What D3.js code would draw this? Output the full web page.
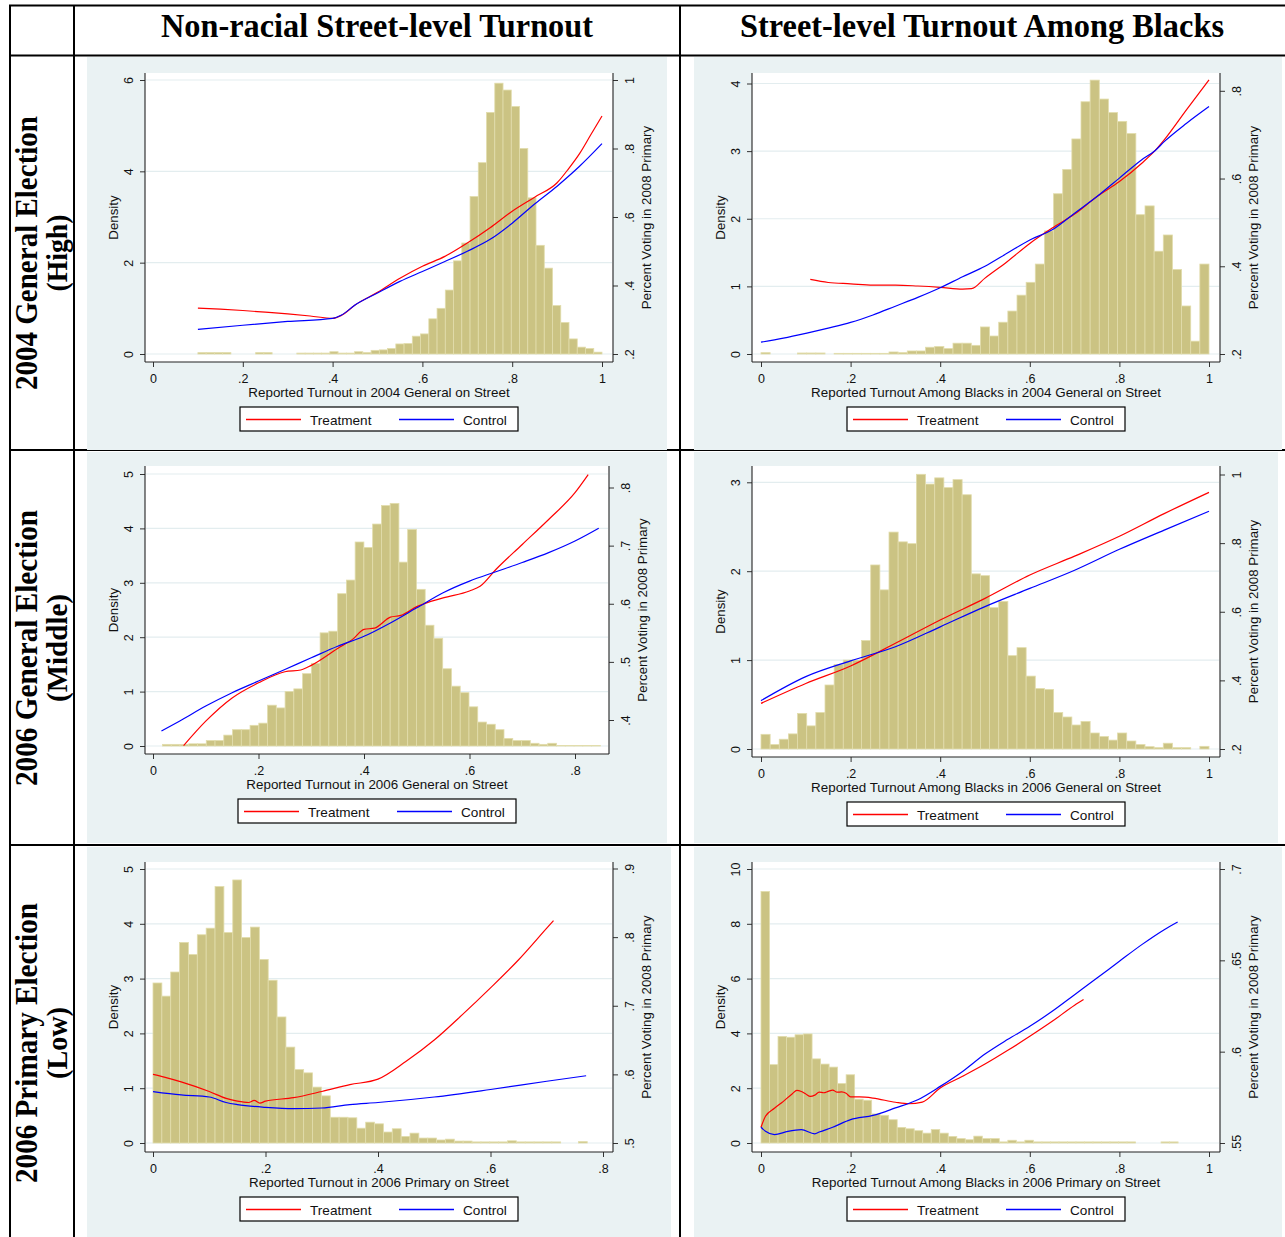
<!DOCTYPE html>
<html>
<head>
<script src="https://d3js.org/d3.v7.min.js"></script>
<style>
  body { margin: 0; background: #fff; }
  text { font-family: "Liberation Sans", Arial, sans-serif; fill: #111; }
  .hdr { font-family: "Liberation Serif", "Times New Roman", serif; font-weight: bold; fill: #000; }
</style>
</head>
<body>
<div id="container"></div>
<script>
// ---- table text ----
const colHeaders = ["Non-racial Street-level Turnout", "Street-level Turnout Among Blacks"];
const rowTitles = ["2004 General Election", "2006 General Election", "2006 Primary Election"];
const rowSubtitles = ["(High)", "(Middle)", "(Low)"];
const legendNames = ["Treatment", "Control"];
const legendColors = ["#FF0000", "#0000FF"];

// ---- panel 1: 2004 general, all ----
const p1XLabel = "Reported Turnout in 2004 General on Street";
const p1XTicks = [0, 0.2, 0.4, 0.6, 0.8, 1];
const p1LeftTicks = [0, 2, 4, 6];
const p1RightTicks = [0.2, 0.4, 0.6, 0.8, 1];
const p1BinStart = 0.1, p1BinWidth = 0.9 / 49;
const p1Density = [0.03,0.03,0.03,0.03,0,0,0,0.03,0.03,0,0,0,0.02,0.02,0.02,0.02,0.05,0.02,0.02,0.05,
  0.03,0.08,0.09,0.12,0.22,0.23,0.39,0.44,0.77,1.0,1.4,2.04,2.43,3.45,4.19,5.29,5.93,5.78,5.42,4.5,
  3.42,2.38,1.88,1.06,0.69,0.33,0.15,0.12,0.04];
const p1TreatX = [0.1,0.15,0.2,0.25,0.3,0.35,0.4,0.42,0.45,0.5,0.55,0.6,0.65,0.7,0.75,0.8,0.85,0.9,0.925,0.95,0.975,1.0];
const p1TreatY = [0.334,0.331,0.327,0.322,0.317,0.311,0.304,0.313,0.343,0.38,0.421,0.456,0.485,0.524,0.568,0.617,0.658,0.70,0.74,0.785,0.84,0.895];
const p1CtrlX = [0.1,0.2,0.3,0.4,0.42,0.45,0.5,0.55,0.6,0.65,0.7,0.75,0.8,0.85,0.9,0.95,1.0];
const p1CtrlY = [0.272,0.284,0.295,0.304,0.314,0.343,0.378,0.412,0.441,0.47,0.5,0.534,0.582,0.638,0.69,0.748,0.814];

// ---- panel 2: 2004 general, blacks ----
const p2XLabel = "Reported Turnout Among Blacks in 2004 General on Street";
const p2XTicks = [0, 0.2, 0.4, 0.6, 0.8, 1];
const p2LeftTicks = [0, 1, 2, 3, 4];
const p2RightTicks = [0.2, 0.4, 0.6, 0.8];
const p2BinStart = 0, p2BinWidth = 1 / 49;
const p2Density = [0.02,0,0,0,0.015,0.015,0.015,0,0.01,0.01,0.01,0.01,0.01,0.01,0.03,0.02,0.045,0.045,0.10,0.11,
  0.08,0.16,0.16,0.128,0.40,0.266,0.47,0.635,0.87,1.06,1.33,1.82,2.37,2.73,3.18,3.73,4.05,3.77,3.57,3.44,
  3.26,2.06,2.19,1.52,1.76,1.25,0.71,0.19,1.33];
const p2TreatX = [0.11,0.15,0.2,0.25,0.3,0.35,0.4,0.45,0.47,0.5,0.55,0.6,0.65,0.7,0.75,0.8,0.85,0.88,0.9,0.95,1.0];
const p2TreatY = [0.370,0.363,0.36,0.357,0.357,0.355,0.352,0.348,0.349,0.373,0.411,0.452,0.487,0.519,0.559,0.593,0.635,0.664,0.688,0.757,0.825];
const p2CtrlX = [0,0.05,0.1,0.15,0.2,0.25,0.3,0.35,0.4,0.45,0.5,0.55,0.6,0.65,0.7,0.75,0.8,0.85,0.88,0.9,0.95,1.0];
const p2CtrlY = [0.227,0.236,0.247,0.259,0.272,0.289,0.309,0.329,0.351,0.376,0.4,0.43,0.46,0.483,0.521,0.559,0.601,0.643,0.664,0.684,0.726,0.764];

// ---- panel 3: 2006 general, all ----
const p3XLabel = "Reported Turnout in 2006 General on Street";
const p3XTicks = [0, 0.2, 0.4, 0.6, 0.8];
const p3LeftTicks = [0, 1, 2, 3, 4, 5];
const p3RightTicks = [0.4, 0.5, 0.6, 0.7, 0.8];
const p3BinStart = 0.018, p3BinWidth = 0.0166;
const p3Density = [0.03,0.03,0.03,0.04,0.04,0.1,0.1,0.2,0.3,0.3,0.38,0.42,0.75,0.7,1.0,1.05,1.33,1.52,2.08,2.11,
  2.8,3.05,3.75,3.65,4.08,4.42,4.46,3.38,3.98,2.88,2.22,1.98,1.42,1.1,0.98,0.72,0.44,0.4,0.3,0.14,
  0.1,0.1,0.05,0.03,0.05,0.01,0.01,0.01,0.01,0.01];
const p3TreatX = [0.058,0.1,0.15,0.2,0.25,0.28,0.3,0.35,0.38,0.4,0.42,0.45,0.47,0.5,0.55,0.6,0.62,0.65,0.7,0.75,0.8,0.825];
const p3TreatY = [0.356,0.398,0.438,0.464,0.483,0.486,0.494,0.523,0.540,0.556,0.558,0.577,0.580,0.595,0.610,0.622,0.630,0.659,0.702,0.745,0.791,0.822];
const p3CtrlX = [0.016,0.05,0.1,0.15,0.2,0.25,0.3,0.35,0.4,0.45,0.5,0.55,0.6,0.65,0.7,0.75,0.8,0.845];
const p3CtrlY = [0.381,0.398,0.424,0.447,0.467,0.487,0.507,0.527,0.544,0.567,0.593,0.619,0.639,0.655,0.671,0.688,0.708,0.730];

// ---- panel 4: 2006 general, blacks ----
const p4XLabel = "Reported Turnout Among Blacks in 2006 General on Street";
const p4XTicks = [0, 0.2, 0.4, 0.6, 0.8, 1];
const p4LeftTicks = [0, 1, 2, 3];
const p4RightTicks = [0.2, 0.4, 0.6, 0.8, 1];
const p4BinStart = 0, p4BinWidth = 1 / 49;
const p4Density = [0.165,0.05,0.11,0.17,0.40,0.26,0.41,0.72,0.95,1.0,1.0,1.22,2.07,1.79,2.44,2.33,2.31,3.09,2.98,3.05,
  2.94,3.03,2.86,1.97,1.95,1.59,1.66,1.05,1.14,0.82,0.68,0.67,0.41,0.36,0.27,0.31,0.18,0.14,0.10,0.18,
  0.09,0.05,0.026,0.015,0.065,0.015,0.015,0,0.03];
const p4TreatX = [0,0.1,0.2,0.3,0.4,0.5,0.6,0.7,0.8,0.9,1.0];
const p4TreatY = [0.333,0.391,0.442,0.508,0.576,0.639,0.707,0.762,0.820,0.886,0.948];
const p4CtrlX = [0,0.1,0.2,0.3,0.4,0.5,0.6,0.7,0.8,0.9,1.0];
const p4CtrlY = [0.341,0.411,0.457,0.498,0.556,0.615,0.668,0.721,0.782,0.838,0.893];

// ---- panel 5: 2006 primary, all ----
const p5XLabel = "Reported Turnout in 2006 Primary on Street";
const p5XTicks = [0, 0.2, 0.4, 0.6, 0.8];
const p5LeftTicks = [0, 1, 2, 3, 4, 5];
const p5RightTicks = [0.5, 0.6, 0.7, 0.8, 0.9];
const p5BinStart = 0, p5BinWidth = 0.772 / 49;
const p5Density = [2.92,2.68,3.12,3.66,3.44,3.80,3.92,4.68,3.84,4.80,3.75,3.94,3.35,2.97,2.30,1.75,1.34,1.28,1.02,0.86,
  0.47,0.47,0.46,0.27,0.38,0.35,0.20,0.26,0.12,0.18,0.09,0.09,0.055,0.07,0.035,0.035,0.02,0.02,0.02,0.02,
  0.04,0.02,0.02,0.02,0.02,0.02,0,0,0.025];
const p5TreatX = [0,0.02,0.05,0.1,0.13,0.15,0.17,0.18,0.19,0.2,0.25,0.3,0.35,0.4,0.45,0.5,0.55,0.6,0.65,0.7,0.712];
const p5TreatY = [0.6,0.596,0.589,0.575,0.565,0.561,0.559,0.562,0.558,0.561,0.566,0.575,0.585,0.593,0.619,0.650,0.687,0.726,0.767,0.813,0.824];
const p5CtrlX = [0,0.05,0.1,0.13,0.15,0.2,0.25,0.3,0.35,0.4,0.5,0.6,0.7,0.77];
const p5CtrlY = [0.575,0.570,0.567,0.559,0.556,0.552,0.55,0.551,0.556,0.559,0.567,0.578,0.590,0.598];

// ---- panel 6: 2006 primary, blacks ----
const p6XLabel = "Reported Turnout Among Blacks in 2006 Primary on Street";
const p6XTicks = [0, 0.2, 0.4, 0.6, 0.8, 1];
const p6LeftTicks = [0, 2, 4, 6, 8, 10];
const p6RightTicks = [0.55, 0.6, 0.65, 0.7];
const p6BinStart = 0, p6BinWidth = 0.019;
const p6Density = [9.18,2.86,3.89,3.86,3.95,3.98,3.07,2.88,2.77,2.17,2.49,1.6,1.56,1.06,1.01,0.85,0.57,0.52,0.45,0.36,
  0.49,0.36,0.24,0.16,0.12,0.25,0.16,0.16,0.04,0.10,0.04,0.10,0.04,0.04,0.04,0.04,0.04,0.04,0.04,0.04,
  0.04,0.04,0.04,0.04,0,0,0,0.04,0.04];
const p6TreatX = [0,0.01,0.03,0.05,0.07,0.08,0.09,0.1,0.11,0.12,0.13,0.14,0.15,0.16,0.17,0.18,0.19,0.2,0.22,0.25,0.3,0.33,0.36,0.4,0.45,0.5,0.55,0.6,0.65,0.7,0.72];
const p6TreatY = [0.5586,0.5646,0.569,0.5728,0.577,0.5788,0.5782,0.5768,0.5755,0.5762,0.5779,0.5775,0.5783,0.579,0.5778,0.578,0.5772,0.5752,0.5752,0.5746,0.5723,0.5715,0.5724,0.5801,0.5865,0.5932,0.6006,0.6084,0.6166,0.6254,0.6285];
const p6CtrlX = [0,0.01,0.03,0.06,0.09,0.12,0.13,0.16,0.2,0.25,0.3,0.35,0.4,0.45,0.5,0.55,0.6,0.65,0.7,0.75,0.8,0.85,0.9,0.93];
const p6CtrlY = [0.5586,0.5564,0.5546,0.5564,0.5573,0.555,0.556,0.5586,0.5628,0.5651,0.5692,0.5737,0.581,0.5892,0.5987,0.6066,0.6139,0.6221,0.6312,0.6403,0.6495,0.6586,0.6668,0.671];

// layout for each panel (pixel positions)
const panels = [
  { bg: [87, 57, 580, 393], left: 145, right: 613, top: 73, axisY: 362, xRange: [153, 602], leftRange: [354, 80], rightRange: [354, 80],
    xLabel: p1XLabel, xTicks: p1XTicks, leftTicks: p1LeftTicks, rightTicks: p1RightTicks, binStart: p1BinStart, binWidth: p1BinWidth,
    density: p1Density, treat: d3.zip(p1TreatX, p1TreatY), ctrl: d3.zip(p1CtrlX, p1CtrlY) },
  { bg: [694, 57, 588, 393], left: 752, right: 1220, top: 73, axisY: 362, xRange: [761, 1209], leftRange: [354, 83.5], rightRange: [354, 90.8],
    xLabel: p2XLabel, xTicks: p2XTicks, leftTicks: p2LeftTicks, rightTicks: p2RightTicks, binStart: p2BinStart, binWidth: p2BinWidth,
    density: p2Density, treat: d3.zip(p2TreatX, p2TreatY), ctrl: d3.zip(p2CtrlX, p2CtrlY) },
  { bg: [87, 452, 580, 391], left: 145, right: 609, top: 466, axisY: 754, xRange: [153, 575], leftRange: [746, 474], rightRange: [720, 487.5],
    xLabel: p3XLabel, xTicks: p3XTicks, leftTicks: p3LeftTicks, rightTicks: p3RightTicks, binStart: p3BinStart, binWidth: p3BinWidth,
    density: p3Density, treat: d3.zip(p3TreatX, p3TreatY), ctrl: d3.zip(p3CtrlX, p3CtrlY) },
  { bg: [694, 452, 584, 391], left: 752, right: 1220, top: 466, axisY: 757, xRange: [761, 1209], leftRange: [749, 482.3], rightRange: [749, 474.5],
    xLabel: p4XLabel, xTicks: p4XTicks, leftTicks: p4LeftTicks, rightTicks: p4RightTicks, binStart: p4BinStart, binWidth: p4BinWidth,
    density: p4Density, treat: d3.zip(p4TreatX, p4TreatY), ctrl: d3.zip(p4CtrlX, p4CtrlY) },
  { bg: [87, 847, 584, 390], left: 145, right: 613, top: 862, axisY: 1152, xRange: [153, 603], leftRange: [1143, 869], rightRange: [1143, 868.5],
    xLabel: p5XLabel, xTicks: p5XTicks, leftTicks: p5LeftTicks, rightTicks: p5RightTicks, binStart: p5BinStart, binWidth: p5BinWidth,
    density: p5Density, treat: d3.zip(p5TreatX, p5TreatY), ctrl: d3.zip(p5CtrlX, p5CtrlY) },
  { bg: [694, 847, 588, 390], left: 752, right: 1220, top: 862, axisY: 1152, xRange: [761, 1209], leftRange: [1143, 869], rightRange: [1143, 869],
    xLabel: p6XLabel, xTicks: p6XTicks, leftTicks: p6LeftTicks, rightTicks: p6RightTicks, binStart: p6BinStart, binWidth: p6BinWidth,
    density: p6Density, treat: d3.zip(p6TreatX, p6TreatY), ctrl: d3.zip(p6CtrlX, p6CtrlY) }
];

const svg = d3.select("#container").append("svg")
  .attr("width", 1285).attr("height", 1237);

// table rules
const rules = svg.append("g");
[5.5, 55.5, 450, 845].forEach(y => rules.append("line").attr("x1", 9).attr("x2", 1285).attr("y1", y).attr("y2", y)
  .style("stroke", "#000").style("stroke-width", 2));
[10, 74, 680].forEach(x => rules.append("line").attr("x1", x).attr("x2", x).attr("y1", 5).attr("y2", 1237)
  .style("stroke", "#000").style("stroke-width", 2));

// column headers
const hdrLen = [432, 484];
colHeaders.forEach((t, i) => {
  svg.append("text").attr("class", "hdr")
    .attr("x", i === 0 ? 377 : 982).attr("y", 37)
    .attr("text-anchor", "middle").attr("font-size", 34)
    .attr("textLength", hdrLen[i]).attr("lengthAdjust", "spacingAndGlyphs")
    .text(t);
});

// row titles (rotated)
const rowMid = [253, 648, 1043];
const titleLen = [274, 276, 280];
const subLen = [77, 108, 72];
rowTitles.forEach((t, i) => {
  svg.append("text").attr("class", "hdr")
    .attr("transform", `translate(37,${rowMid[i]}) rotate(-90)`)
    .attr("text-anchor", "middle").attr("font-size", 31)
    .attr("textLength", titleLen[i]).attr("lengthAdjust", "spacingAndGlyphs")
    .text(t);
  svg.append("text").attr("class", "hdr")
    .attr("transform", `translate(67,${rowMid[i]}) rotate(-90)`)
    .attr("text-anchor", "middle").attr("font-size", 30)
    .attr("textLength", subLen[i]).attr("lengthAdjust", "spacingAndGlyphs")
    .text(rowSubtitles[i]);
});

const fmt = d => d === 0 ? "0" : String(+d.toFixed(2)).replace(/^0\./, ".");

function drawPanel(p) {
  const g = svg.append("g");
  g.append("rect").attr("x", p.bg[0]).attr("y", p.bg[1]).attr("width", p.bg[2]).attr("height", p.bg[3]).attr("fill", "#EAF2F3");
  g.append("rect").attr("x", p.left).attr("y", p.top).attr("width", p.right - p.left).attr("height", p.axisY - p.top).attr("fill", "#fff");

  const x = d3.scaleLinear().domain([0, p.xTicks[p.xTicks.length - 1]]).range(p.xRange);
  const yL = d3.scaleLinear().domain([p.leftTicks[0], p.leftTicks[p.leftTicks.length - 1]]).range(p.leftRange);
  const yR = d3.scaleLinear().domain([p.rightTicks[0], p.rightTicks[p.rightTicks.length - 1]]).range(p.rightRange);

  // grid lines
  g.append("g").selectAll("line").data(p.leftTicks).join("line")
    .attr("x1", p.left + 1).attr("x2", p.right - 1)
    .attr("y1", d => yL(d)).attr("y2", d => yL(d))
    .style("stroke", "#E3EDEF").style("stroke-width", 1.2);

  // histogram
  const bins = p.density.map((d, i) => ({ x0: p.binStart + i * p.binWidth, x1: p.binStart + (i + 1) * p.binWidth, d }))
    .filter(b => b.d > 0);
  g.append("g").selectAll("rect").data(bins).join("rect")
    .attr("x", b => x(b.x0)).attr("width", b => x(b.x1) - x(b.x0))
    .attr("y", b => yL(b.d)).attr("height", b => yL(0) - yL(b.d))
    .attr("fill", "#CBC383").attr("stroke", "#E2DDAC").attr("stroke-width", 0.8);

  // lowess lines
  const line = d3.line().x(d => x(d[0])).y(d => yR(d[1])).curve(d3.curveMonotoneX);
  g.append("path").datum(p.treat).attr("d", line).attr("fill", "none").style("stroke", legendColors[0]).style("stroke-width", 1.2);
  g.append("path").datum(p.ctrl).attr("d", line).attr("fill", "none").style("stroke", legendColors[1]).style("stroke-width", 1.2);

  // axes
  const styleAxis = a => {
    a.select(".domain").remove();
    a.attr("font-family", "Liberation Sans, Arial, sans-serif").attr("font-size", 12.5);
    a.selectAll(".tick line").attr("stroke", "#333");
  };
  g.append("g").attr("transform", `translate(${p.left},0)`)
    .call(d3.axisLeft(yL).tickValues(p.leftTicks).tickSize(5).tickFormat(fmt))
    .call(styleAxis)
    .call(a => a.selectAll("text").attr("x", 0).attr("dy", null).attr("y", -12.5)
      .attr("transform", "rotate(-90)").attr("text-anchor", "middle"));
  g.append("g").attr("transform", `translate(${p.right},0)`)
    .call(d3.axisRight(yR).tickValues(p.rightTicks).tickSize(5).tickFormat(fmt))
    .call(styleAxis)
    .call(a => a.selectAll("text").attr("x", 0).attr("dy", null).attr("y", 21)
      .attr("transform", "rotate(-90)").attr("text-anchor", "middle"));
  g.append("g").attr("transform", `translate(0,${p.axisY})`)
    .call(d3.axisBottom(x).tickValues(p.xTicks).tickSize(5).tickFormat(fmt))
    .call(styleAxis)
    .call(a => a.selectAll("text").attr("dy", null).attr("y", 21));

  const frame = g.append("g");
  [[p.left, p.top, p.left, p.axisY], [p.right, p.top, p.right, p.axisY], [p.left, p.axisY, p.right, p.axisY]]
    .forEach(s => frame.append("line").attr("x1", s[0]).attr("y1", s[1]).attr("x2", s[2]).attr("y2", s[3])
      .style("stroke", "#222").style("stroke-width", 1.1));

  // titles
  const midY = (p.top + p.axisY) / 2, midX = (p.left + p.right) / 2;
  g.append("text").attr("transform", `translate(${p.left - 27},${midY}) rotate(-90)`)
    .attr("text-anchor", "middle").attr("font-size", 13.3).text("Density");
  g.append("text").attr("transform", `translate(${p.right + 38},${midY}) rotate(-90)`)
    .attr("text-anchor", "middle").attr("font-size", 13.3).text("Percent Voting in 2008 Primary");
  g.append("text").attr("x", midX).attr("y", p.axisY + 35)
    .attr("text-anchor", "middle").attr("font-size", 13.4).text(p.xLabel);

  // legend
  const lx = midX - 139, ly = p.axisY + 45;
  const lg = g.append("g");
  lg.append("rect").attr("x", lx).attr("y", ly).attr("width", 278).attr("height", 24)
    .style("fill", "#fff").style("stroke", "#000").style("stroke-width", 1.2);
  legendNames.forEach((n, i) => {
    const ox = lx + 6 + i * 153;
    lg.append("path").attr("d", `M${ox},${ly + 12.5}H${ox + 55}`)
      .style("fill", "none").style("stroke", legendColors[i]).style("stroke-width", 1.3);
    lg.append("text").attr("x", ox + 64).attr("y", ly + 17.5).attr("font-size", 13.6).text(n);
  });
}

panels.forEach(drawPanel);
</script>
</body>
</html>
